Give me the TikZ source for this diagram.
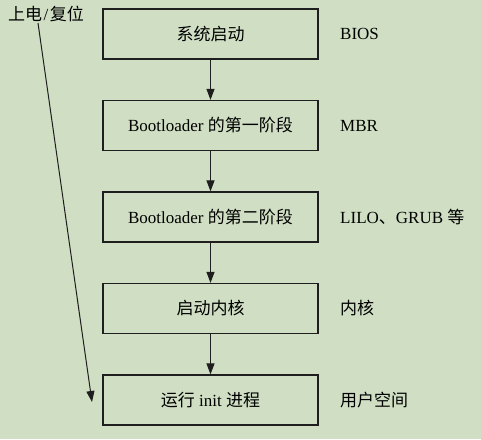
\documentclass[tikz,border=0pt]{standalone}
\usepackage{fontspec}
\setmainfont{Liberation Serif}
\newfontfamily\cjk{Noto Sans CJK SC}
\usetikzlibrary{arrows.meta}
\definecolor{bgc}{RGB}{208,223,196}
\definecolor{ink}{RGB}{30,30,30}
\tikzset{
  stagebox/.style={draw=ink, line width=1.2pt, minimum width=215pt, minimum height=50pt, inner sep=0pt, font=\fontsize{17}{19}\selectfont},
  sidelabel/.style={anchor=west, inner sep=0pt, font=\fontsize{17}{19}\selectfont},
  flow/.style={draw=ink, line width=1pt, -{Triangle[length=11pt,width=8pt]}}
}
\begin{document}
\begin{tikzpicture}[x=1pt,y=1pt]
\fill[bgc] (0,0) rectangle (481,439);
\useasboundingbox (0,0) rectangle (481,439);
\node[stagebox] (s1) at (210.5,405) {\cjk 系统启动};
\node[stagebox] (s2) at (210.5,313.5) {Bootloader {\cjk 的第一阶段}};
\node[stagebox] (s3) at (210.5,222) {Bootloader {\cjk 的第二阶段}};
\node[stagebox] (s4) at (210.5,130.5) {\cjk 启动内核};
\node[stagebox] (s5) at (210.5,39) {{\cjk 运行} init {\cjk 进程}};
\node[sidelabel] (l1) at (340,405) {BIOS};
\node[sidelabel] (l2) at (340,313.5) {MBR};
\node[sidelabel] (l3) at (340,222) {LILO{\cjk 、}GRUB {\cjk 等}};
\node[sidelabel] (l4) at (340,130.5) {\cjk 内核};
\node[sidelabel] (l5) at (340,39) {\cjk 用户空间};
\node[anchor=west, inner sep=0pt, font=\fontsize{17}{19}\selectfont] (pw) at (8,425) {{\cjk 上电}\hspace{1.5pt}/\hspace{1.5pt}{\cjk 复位}};
\coordinate (pwend) at (92,37);
\coordinate (pwstart) at (38,416);
\draw[flow] (s1) -- (s2);
\draw[flow] (s2) -- (s3);
\draw[flow] (s3) -- (s4);
\draw[flow] (s4) -- (s5);
\draw[flow] (pwstart) -- (pwend);
\end{tikzpicture}
\end{document}
